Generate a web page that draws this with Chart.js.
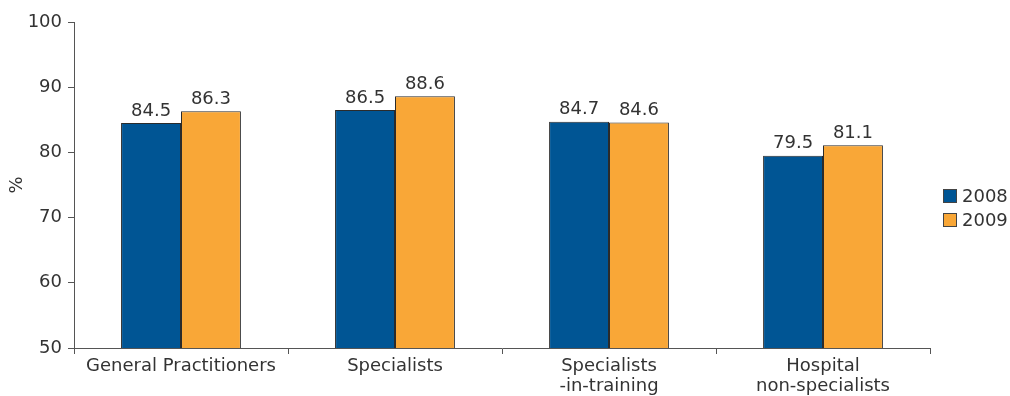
<!DOCTYPE html>
<html>
<head>
<meta charset="utf-8">
<script src="https://cdn.jsdelivr.net/npm/chart.js@4/dist/chart.umd.min.js"></script>
<style>
  html, body { margin: 0; padding: 0; background: #fff; }
  #wrap { width: 1010px; height: 396px; }
</style>
</head>
<body>
<div id="wrap"><canvas id="physChart" width="1010" height="396"></canvas></div>
<script>
const categories = [
  "General Practitioners",
  "Specialists",
  ["Specialists", "-in-training"],
  ["Hospital", "non-specialists"]
];
const values2008 = [84.5, 86.5, 84.7, 79.5];
const values2009 = [86.3, 88.6, 84.6, 81.1];
const yTicks = [50, 60, 70, 80, 90, 100];

const FONT = "'DejaVu Sans', Verdana, sans-serif";
const TEXT = "#333";
const SIZE = 18;

// value labels above each bar
const valueLabels = {
  id: "valueLabels",
  afterDatasetsDraw(chart) {
    const ctx = chart.ctx;
    ctx.save();
    ctx.font = SIZE + "px " + FONT;
    ctx.fillStyle = TEXT;
    ctx.textAlign = "center";
    ctx.textBaseline = "bottom";
    chart.data.datasets.forEach((ds, i) => {
      chart.getDatasetMeta(i).data.forEach((bar, j) => {
        ctx.fillText(ds.data[j].toFixed(1), bar.x, bar.y - 3);
      });
    });
    ctx.restore();
  }
};

// legend drawn to the right of the plot
const sideLegend = {
  id: "sideLegend",
  afterDraw(chart) {
    const ctx = chart.ctx;
    ctx.save();
    ctx.font = SIZE + "px " + FONT;
    ctx.textBaseline = "middle";
    ctx.textAlign = "left";
    const x = 943, y0 = 196, step = 24;
    chart.data.datasets.forEach((ds, i) => {
      const y = y0 + i * step;
      ctx.fillStyle = ds.backgroundColor;
      ctx.fillRect(x, y - 7, 14, 14);
      ctx.strokeStyle = "#444";
      ctx.lineWidth = 1;
      ctx.strokeRect(x + 0.5, y - 6.5, 13, 13);
      ctx.fillStyle = TEXT;
      ctx.fillText(ds.label, x + 19, y + 1);
    });
    ctx.restore();
  }
};

new Chart(document.getElementById("physChart"), {
  type: "bar",
  data: {
    labels: categories,
    datasets: [
      { label: "2008", data: values2008, backgroundColor: "#005594", borderColor: "#2b2b2b", borderWidth: 1 },
      { label: "2009", data: values2009, backgroundColor: "#F9A737", borderColor: "#2b2b2b", borderWidth: 1 }
    ]
  },
  options: {
    responsive: false,
    animation: false,
    devicePixelRatio: 1,
    layout: { padding: { top: 22, right: 80, bottom: 0, left: 0 } },
    datasets: { bar: { barPercentage: 1, categoryPercentage: 0.56 } },
    plugins: {
      legend: { display: false },
      tooltip: { enabled: false }
    },
    scales: {
      x: {
        afterFit(scale) { scale.height = 48; },
        grid: { drawOnChartArea: false, drawTicks: true, tickLength: 6, color: "#555" },
        border: { color: "#555", width: 1 },
        ticks: { color: TEXT, font: { family: FONT, size: SIZE, lineHeight: 1.12 }, padding: 2, maxRotation: 0, autoSkip: false }
      },
      y: {
        min: 50,
        max: 100,
        afterFit(scale) { scale.width = 74; },
        afterBuildTicks(scale) { scale.ticks = yTicks.map(v => ({ value: v })); },
        grid: { drawOnChartArea: false, drawTicks: true, tickLength: 6, color: "#555" },
        border: { color: "#555", width: 1 },
        title: { display: true, text: "%", color: TEXT, font: { family: FONT, size: SIZE }, padding: { top: 7, bottom: 0 } },
        ticks: { color: TEXT, font: { family: FONT, size: SIZE }, padding: 6 }
      }
    }
  },
  plugins: [valueLabels, sideLegend]
});
</script>
</body>
</html>
